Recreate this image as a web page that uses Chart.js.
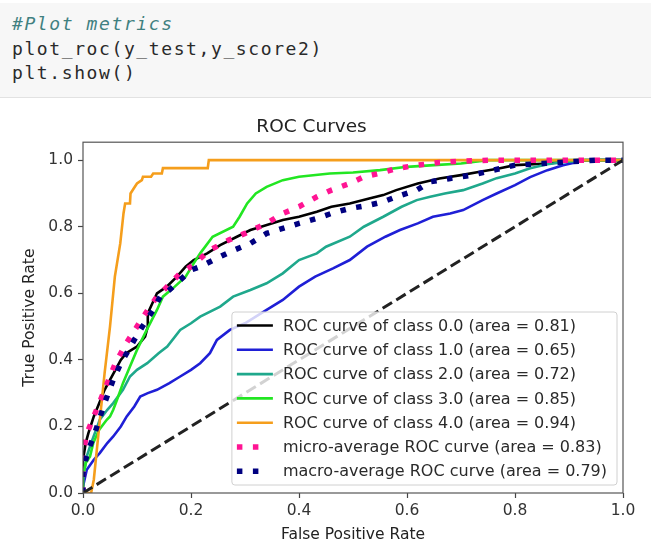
<!DOCTYPE html>
<html>
<head>
<meta charset="utf-8">
<script src="https://cdn.jsdelivr.net/npm/chart.js@4.4.0/dist/chart.umd.min.js"></script>
<style>
  html,body{margin:0;padding:0;background:#fff;width:651px;height:544px;overflow:hidden;}
  .cell{position:absolute;left:0;top:3px;width:651px;height:94px;background:#f7f7f7;border-bottom:1px solid #e2e2e2;}
  .cell pre{margin:0;position:absolute;left:12px;top:9px;font-family:"DejaVu Sans Mono",monospace;font-size:18px;line-height:24.5px;letter-spacing:1.6px;color:#2a2a2a;}
  .cm{color:#408080;font-style:italic;}
  #wrap{position:absolute;left:0;top:100px;width:651px;height:444px;}
</style>
</head>
<body>
<div class="cell"><pre><span class="cm">#Plot metrics</span>
plot_roc(y_test,y_score2)
plt.show()</pre></div>
<div id="wrap"><canvas id="roc" width="651" height="444"></canvas></div>
<script>
// ticks
const xTicks = [0, 0.2, 0.4, 0.6, 0.8, 1.0];
const yTicks = [0, 0.2, 0.4, 0.6, 0.8, 1.0];

// classes
const classNames = ["0.0", "1.0", "2.0", "3.0", "4.0"];
const classAreas = [0.81, 0.65, 0.72, 0.85, 0.94];
const classColors = ["#000000", "#1f1fd6", "#1fa88c", "#22e622", "#f59e1c"];
const microArea = 0.83;
const macroArea = 0.79;

// class 0.0
const fpr0 = [0,0,0.005,0.01,0.02,0.03,0.04,0.05,0.06,0.07,0.08,0.09,0.1,0.11,0.115,0.12,0.12,0.137,0.155,0.174,0.19,0.205,0.23,0.254,0.285,0.31,0.33,0.37,0.4,0.433,0.46,0.494,0.53,0.556,0.58,0.62,0.66,0.7,0.735,0.77,0.8,0.86,0.9,0.95,1];
const tpr0 = [0,0.1,0.15,0.18,0.23,0.27,0.31,0.34,0.37,0.4,0.42,0.43,0.44,0.46,0.47,0.5,0.54,0.6,0.62,0.65,0.68,0.7,0.72,0.745,0.77,0.79,0.8,0.82,0.83,0.845,0.86,0.87,0.885,0.895,0.91,0.93,0.945,0.955,0.965,0.975,0.985,0.99,0.997,1,1];
// class 1.0
const fpr1 = [0,0,0.007,0.02,0.031,0.045,0.056,0.07,0.081,0.095,0.106,0.12,0.137,0.16,0.18,0.2,0.217,0.235,0.248,0.272,0.3,0.34,0.37,0.4,0.43,0.463,0.494,0.526,0.56,0.587,0.62,0.648,0.68,0.704,0.74,0.766,0.8,0.828,0.86,0.889,0.93,1];
const tpr1 = [0,0.02,0.07,0.1,0.12,0.15,0.17,0.2,0.23,0.26,0.29,0.3,0.31,0.33,0.35,0.37,0.39,0.42,0.46,0.49,0.51,0.55,0.58,0.62,0.65,0.675,0.7,0.74,0.77,0.79,0.81,0.83,0.84,0.85,0.88,0.9,0.925,0.949,0.97,0.985,1,1];
// class 2.0
const fpr2 = [0,0,0.007,0.015,0.031,0.045,0.056,0.074,0.087,0.1,0.119,0.14,0.156,0.18,0.2,0.217,0.254,0.278,0.31,0.34,0.37,0.4,0.433,0.45,0.494,0.52,0.556,0.59,0.618,0.643,0.67,0.704,0.74,0.766,0.8,0.828,0.86,0.889,0.93,1];
const tpr2 = [0,0.04,0.11,0.15,0.22,0.25,0.27,0.31,0.35,0.37,0.39,0.42,0.44,0.49,0.51,0.53,0.56,0.59,0.61,0.63,0.66,0.7,0.72,0.74,0.77,0.8,0.83,0.86,0.88,0.89,0.9,0.91,0.93,0.946,0.96,0.976,0.988,0.994,1,1];
// class 3.0
const fpr3 = [0,0,0.005,0.013,0.019,0.03,0.044,0.05,0.056,0.063,0.074,0.087,0.1,0.118,0.137,0.148,0.17,0.19,0.205,0.217,0.24,0.278,0.29,0.304,0.32,0.34,0.37,0.4,0.457,0.5,0.55,0.6,0.65,0.7,0.75,1];
const tpr3 = [0,0.05,0.09,0.11,0.15,0.19,0.22,0.23,0.25,0.28,0.33,0.38,0.43,0.49,0.55,0.59,0.62,0.65,0.69,0.72,0.77,0.8,0.83,0.87,0.9,0.92,0.94,0.95,0.96,0.963,0.97,0.98,0.985,0.99,1,1];
// class 4.0
const fpr4 = [0,0.015,0.02,0.03,0.04,0.05,0.059,0.069,0.075,0.078,0.087,0.088,0.096,0.1,0.109,0.111,0.126,0.13,0.146,0.148,0.231,0.233,1];
const tpr4 = [0,0,0.04,0.2,0.36,0.5,0.65,0.75,0.84,0.87,0.87,0.9,0.92,0.93,0.94,0.95,0.95,0.96,0.96,0.976,0.976,1,1];
// micro-average
const fprMicro = [0,0,0.005,0.01,0.02,0.03,0.04,0.05,0.06,0.07,0.08,0.1,0.12,0.137,0.15,0.18,0.2,0.235,0.27,0.3,0.34,0.37,0.4,0.433,0.46,0.494,0.52,0.556,0.58,0.62,0.66,0.7,0.75,1];
const tprMicro = [0,0.12,0.16,0.19,0.23,0.27,0.31,0.35,0.39,0.42,0.45,0.5,0.55,0.59,0.61,0.66,0.68,0.73,0.76,0.78,0.81,0.84,0.86,0.89,0.91,0.93,0.95,0.963,0.975,0.985,0.993,0.997,1,1];
// macro-average
const fprMacro = [0,0,0.005,0.01,0.02,0.03,0.04,0.056,0.07,0.081,0.095,0.11,0.13,0.143,0.16,0.18,0.2,0.217,0.254,0.28,0.31,0.34,0.37,0.4,0.433,0.46,0.494,0.53,0.556,0.58,0.618,0.643,0.68,0.72,0.76,0.8,0.85,0.9,0.95,1];
const tprMacro = [0,0.06,0.1,0.13,0.17,0.22,0.27,0.34,0.39,0.42,0.46,0.5,0.55,0.59,0.61,0.64,0.67,0.68,0.71,0.73,0.75,0.78,0.795,0.81,0.825,0.84,0.855,0.865,0.875,0.89,0.91,0.935,0.945,0.955,0.97,0.985,0.99,0.995,1,1];
// chance line
const fprChance = [0, 1];
const tprChance = [0, 1];

function pts(f, t){ return f.map((x, i) => ({x: x, y: t[i]})); }

const classFpr = [fpr0, fpr1, fpr2, fpr3, fpr4];
const classTpr = [tpr0, tpr1, tpr2, tpr3, tpr4];

const datasets = classNames.map((c, i) => ({
  label: `ROC curve of class ${c} (area = ${classAreas[i].toFixed(2)})`,
  data: pts(classFpr[i], classTpr[i]),
  borderColor: classColors[i], borderWidth: 2.6
}));
datasets.push({
  label: `micro-average ROC curve (area = ${microArea.toFixed(2)})`,
  data: pts(fprMicro, tprMicro),
  borderColor: "#ff1493", borderWidth: 5.5, borderDash: [5.5, 10.5], borderCapStyle: "butt"
});
datasets.push({
  label: `macro-average ROC curve (area = ${macroArea.toFixed(2)})`,
  data: pts(fprMacro, tprMacro),
  borderColor: "#000080", borderWidth: 5.5, borderDash: [5.5, 10.5], borderCapStyle: "butt"
});
datasets.push({
  label: "", legend: false,
  data: pts(fprChance, tprChance),
  borderColor: "#222", borderWidth: 3, borderDash: [11, 5]
});
// matplotlib draws later lines on top
datasets.forEach((d, i) => {
  d.order = datasets.length - i;
  d.showLine = true; d.pointRadius = 0; d.tension = 0; d.fill = false;
});

const FONT = "DejaVu Sans";

const framePlugin = {
  id: "frame",
  afterDatasetsDraw(chart){
    const {ctx, chartArea: a} = chart;
    ctx.save();
    ctx.strokeStyle = "#555"; ctx.lineWidth = 1.2;
    ctx.strokeRect(a.left, a.top, a.right - a.left, a.bottom - a.top);
    ctx.restore();
  }
};

const legendPlugin = {
  id: "innerLegend",
  afterDraw(chart){
    const {ctx, chartArea: a} = chart;
    const items = chart.data.datasets.filter(d => d.legend !== false);
    ctx.save();
    ctx.font = `16px "${FONT}"`;
    const maxW = Math.max(...items.map(d => ctx.measureText(d.label).width));
    const w = 51 + maxW + 10, h = 173;
    const right = a.right - 6, bottom = a.bottom - 8;
    const left = right - w, top = bottom - h;
    ctx.fillStyle = "rgba(255,255,255,0.8)";
    ctx.strokeStyle = "#d0d0d0"; ctx.lineWidth = 1;
    ctx.beginPath();
    ctx.roundRect(left, top, w, h, 3);
    ctx.fill(); ctx.stroke();
    items.forEach((d, i) => {
      const y = top + 13.5 + i * 24.3;
      ctx.beginPath();
      ctx.strokeStyle = d.borderColor;
      ctx.lineWidth = d.borderWidth;
      ctx.setLineDash(d.borderDash || []);
      ctx.lineCap = "butt";
      const len = d.borderDash ? 24 : 36;
      ctx.moveTo(left + 5, y);
      ctx.lineTo(left + 5 + len, y);
      ctx.stroke();
      ctx.setLineDash([]);
      ctx.fillStyle = "#2a2a2a";
      ctx.textBaseline = "middle";
      ctx.fillText(d.label, left + 51, y + 1);
    });
    ctx.restore();
  }
};

new Chart(document.getElementById("roc"), {
  type: "scatter",
  data: { datasets },
  options: {
    responsive: false,
    animation: false,
    layout: { padding: { left: 0, right: 28, top: 0, bottom: 0 } },
    plugins: {
      legend: { display: false },
      tooltip: { enabled: false },
      title: {
        display: true, text: "ROC Curves", color: "#222",
        font: { family: FONT, size: 18.5, weight: "normal" },
        padding: { top: 16, bottom: 4 }
      }
    },
    scales: {
      x: {
        type: "linear", min: 0, max: 1,
        afterBuildTicks: s => { s.ticks = xTicks.map(v => ({value: v})); },
        afterFit: s => { s.height = 51; s.paddingLeft = 0; s.paddingRight = 0; },
        ticks: { callback: v => Number(v).toFixed(1), color: "#333", font: { family: FONT, size: 15.5 }, padding: 4, maxRotation: 0, autoSkip: false },
        grid: { drawOnChartArea: false, drawTicks: true, tickLength: 5, color: "#444", tickWidth: 1.2 },
        border: { display: false },
        title: { display: true, text: "False Positive Rate", color: "#222", font: { family: FONT, size: 15.5 }, padding: { top: 2, bottom: 0 } }
      },
      y: {
        type: "linear", min: 0, max: 1.054,
        afterBuildTicks: s => { s.ticks = yTicks.map(v => ({value: v})); },
        afterFit: s => { s.width = 83; s.paddingTop = 0; s.paddingBottom = 0; },
        ticks: { callback: v => Number(v).toFixed(1), color: "#333", font: { family: FONT, size: 15.5 }, padding: 5, autoSkip: false },
        grid: { drawOnChartArea: false, drawTicks: true, tickLength: 5, color: "#444", tickWidth: 1.2 },
        border: { display: false },
        title: { display: true, text: "True Positive Rate", color: "#222", font: { family: FONT, size: 15.5 }, padding: { top: 21, bottom: 0 } }
      }
    }
  },
  plugins: [framePlugin, legendPlugin]
});
</script>
</body>
</html>
